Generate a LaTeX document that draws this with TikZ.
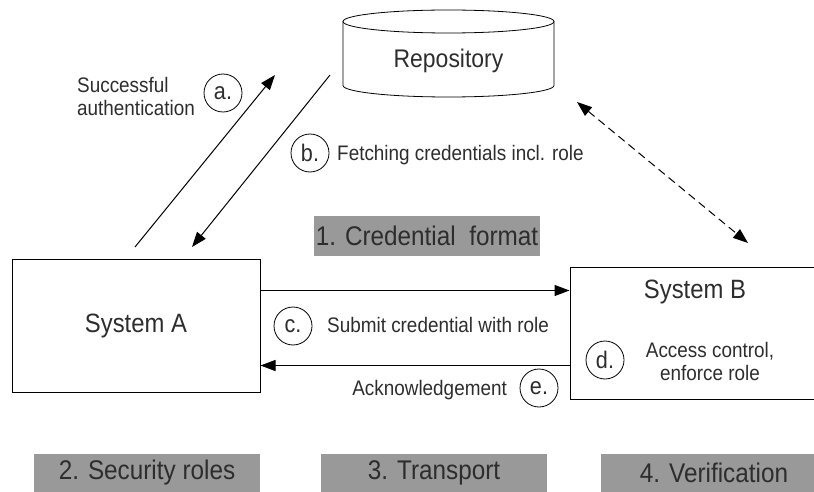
\documentclass[tikz,border=0pt]{standalone}
\usepackage{fontspec}
\setmainfont[FakeStretch=0.9]{Liberation Sans}
\usetikzlibrary{shapes.geometric, arrows.meta, positioning, calc}
\definecolor{txtgray}{RGB}{45,45,45}
\definecolor{phasegray}{RGB}{153,153,153}

\tikzset{
  sysbox/.style={draw, line width=1pt, rectangle, inner sep=0pt, text=txtgray, font=\fontsize{26.5}{28}\selectfont},
  stepmark/.style={draw, circle, line width=0.8pt, minimum size=38pt, inner sep=0pt, text=txtgray, font=\fontsize{24}{26}\selectfont},
  note/.style={text=txtgray, font=\fontsize{21}{23}\selectfont, inner sep=0pt},
  phase/.style={fill=phasegray, text=txtgray, minimum width=226pt, inner sep=0pt, font=\fontsize{27}{29}\selectfont},
  flow/.style={line width=1pt, -{Triangle[length=15pt,width=11pt]}},
  link/.style={line width=1pt, dash pattern=on 8pt off 5pt, {Triangle[length=15pt,width=11pt]}-{Triangle[length=15pt,width=11pt]}},
}

\begin{document}
\begin{tikzpicture}[x=1pt, y=-1pt]
  \useasboundingbox (0,0) rectangle (814,492);

  % ---- Repository (cylinder) ----
  \draw[line width=0.8pt] (448.5,21.5) ellipse [x radius=105.5, y radius=11.5];
  \draw[line width=0.8pt] (343,21.5) -- (343,85.5) arc[start angle=180, end angle=0, x radius=105.5, y radius=11.5] -- (554,21.5);
  \node[text=txtgray, font=\fontsize{25.5}{27}\selectfont] (repo) at (448.5,61) {Repository};

  % ---- Systems ----
  \node[sysbox, minimum width=248pt, minimum height=133pt] (sysA) at (136,325.5) {System A};
  \node[sysbox, minimum width=250pt, minimum height=132pt] (sysB) at (695,333) {};
  \node[sysbox, draw=none, below=13pt of sysB.north] (sysBtitle) {System B};
  \node[note, align=center] (access) at (710,361) {Access control,\\enforce role};

  % ---- Step marks ----
  \node[stepmark] (stepa) at (223,93) {a.};
  \node[stepmark] (stepb) at (310,153) {b.};
  \node[stepmark] (stepc) at (293,326) {c.};
  \node[stepmark] (stepd) at (605,360) {d.};
  \node[stepmark] (stepe) at (539,388) {e.};

  % ---- Notes ----
  \node[note, align=left, anchor=west] (authnote) at (77,96.5) {Successful\\authentication};
  \node[note, anchor=west] (fetchnote) at (337,155) {Fetching credentials incl. role};
  \node[note, anchor=west] (submitnote) at (327,325) {Submit credential with role};
  \node[note, anchor=east] (acknote) at (507,390) {Acknowledgement};

  % ---- Phases ----
  \node[phase, minimum height=40pt] (phase1) at (427,236) {1. Credential\ \ format};
  \node[phase, minimum height=38pt] (phase2) at (147,473) {2. Security roles};
  \node[phase, minimum height=38pt] (phase3) at (434,473) {3. Transport};
  \node[phase, minimum height=38pt] (phase4) at (714,473) {4. Verification};

  % ---- Connectors ----
  \coordinate (aStart) at (135,247);
  \coordinate (aEnd)   at (275,75);
  \coordinate (bStart) at (330,75);
  \coordinate (bEnd)   at (192,247);
  \draw[flow] (aStart) -- (aEnd);
  \draw[flow] (bStart) -- (bEnd);

  \coordinate (cStart) at ($(sysA.north east)+(0,32)$);
  \coordinate (eEnd)   at ($(sysA.north east)+(0,107)$);
  \draw[flow] (cStart) -- (cStart -| sysB.west);
  \draw[flow] (eEnd -| sysB.west) -- (eEnd);

  \coordinate (linkRepo) at (577,102);
  \coordinate (linkB)    at (748,243);
  \draw[link] (linkRepo) -- (linkB);
\end{tikzpicture}
\end{document}
